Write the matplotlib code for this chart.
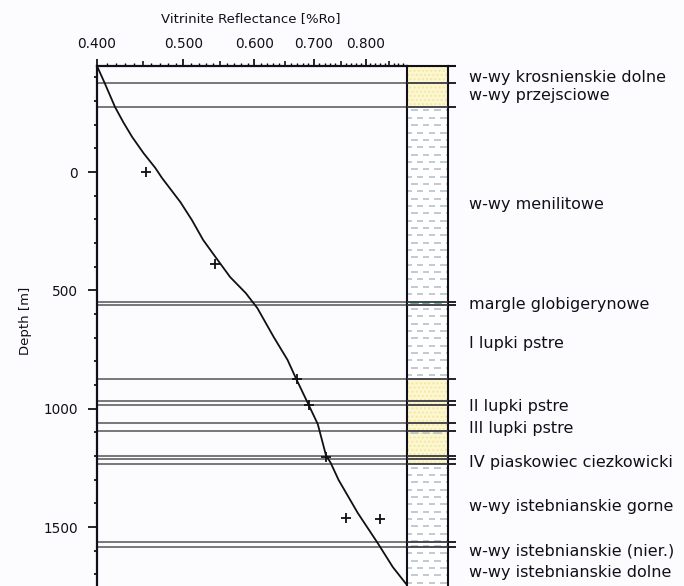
import numpy as np
import matplotlib
matplotlib.use('Agg')
import matplotlib.pyplot as plt
from matplotlib.ticker import FixedLocator, FixedFormatter, NullFormatter

plt.rcParams['font.family'] = ['DejaVu Sans']

# ---- data ----
curve_ro = [0.400, 0.408, 0.419, 0.428, 0.438, 0.451, 0.465, 0.473, 0.496, 0.511,
            0.526, 0.543, 0.564, 0.587, 0.605, 0.631, 0.654, 0.668, 0.689, 0.707,
            0.722, 0.731, 0.746, 0.784, 0.825, 0.858, 0.890]
curve_depth = [-448, -376, -275, -211, -148, -80, -17, 25, 127, 203,
               287, 359, 444, 511, 575, 697, 794, 870, 976, 1065,
               1196, 1229, 1301, 1441, 1567, 1669, 1745]

sample_ro = [0.454, 0.543, 0.670, 0.691, 0.722, 0.760, 0.830]
sample_depth = [0, 389, 876, 984, 1204, 1463, 1467]

boundaries = [-375, -276, 548, 562, 875, 967, 984, 1062, 1093, 1199, 1212, 1233, 1564, 1583]

layer_tops = [-448, -375, -276, 548, 562, 875, 967, 984, 1062, 1093, 1199, 1233, 1564]
layer_bases = [-375, -276, 548, 562, 875, 967, 984, 1062, 1093, 1199, 1233, 1564, 1749]
layer_lith = ['sand', 'sand', 'shale', 'marl', 'shale', 'sand', 'sand', 'sand',
              'sandshale', 'sand', 'sand', 'shale', 'shale']

formation_names = ['w-wy krosnienskie dolne', 'w-wy przejsciowe', 'w-wy menilitowe',
                   'margle globigerynowe', 'I lupki pstre', 'II lupki pstre',
                   'III lupki pstre', 'IV piaskowiec ciezkowicki',
                   'w-wy istebnianskie gorne', 'w-wy istebnianskie (nier.)',
                   'w-wy istebnianskie dolne']
label_depths = [-399, -323, 139, 560, 725, 989, 1085, 1229, 1412, 1602, 1692]

x_major = [0.4, 0.5, 0.6, 0.7, 0.8]
x_major_labels = ['0.400', '0.500', '0.600', '0.700', '0.800']
x_mid = [0.45, 0.55, 0.65, 0.75, 0.85]
y_major = [0, 500, 1000, 1500]

XMIN, XMAX = 0.4, 0.89
YTOP, YBOT = -448, 1749

# ---- figure ----
W, H = 684, 586
fig = plt.figure(figsize=(W / 100, H / 100), dpi=100)
fig.patch.set_facecolor('#fcfcfe')

ax_l, ax_r, ax_t = 97, 407, 66
ax = fig.add_axes([ax_l / W, 0, (ax_r - ax_l) / W, (H - ax_t) / H])
ax.set_facecolor('#fcfcfe')
ax.set_xscale('log')
ax.set_xlim(XMIN, XMAX)
ax.set_ylim(YBOT, YTOP)

ax.xaxis.tick_top()
ax.xaxis.set_major_locator(FixedLocator(x_major))
ax.xaxis.set_major_formatter(FixedFormatter(x_major_labels))
minors = [round(v, 2) for v in np.arange(0.41, 0.885, 0.01)
          if all(abs(v - m) > 1e-6 for m in x_major + x_mid)]
ax.xaxis.set_minor_locator(FixedLocator(minors))
ax.xaxis.set_minor_formatter(NullFormatter())
ax.tick_params(axis='x', which='major', direction='out', length=5.0, width=1.2,
               pad=6, labelsize=9.8, top=True, bottom=False, labelcolor='#101018')
ax.tick_params(axis='x', which='minor', direction='out', length=2.2, width=1.0,
               top=True, bottom=False)
sec = ax.secondary_xaxis('top')
sec.xaxis.set_major_locator(FixedLocator(x_mid))
sec.xaxis.set_major_formatter(NullFormatter())
sec.xaxis.set_minor_locator(FixedLocator([]))
sec.tick_params(axis='x', which='major', direction='out', length=3.5, width=1.1)
sec.spines['top'].set_visible(False)

ax.yaxis.set_major_locator(FixedLocator(y_major))
ax.yaxis.set_minor_locator(FixedLocator([v for v in range(-400, 1750, 100) if v % 500 != 0]))
ax.tick_params(axis='y', which='major', direction='out', length=6.5, width=1.2,
               pad=7, labelsize=9.8, labelcolor='#101018')
ax.tick_params(axis='y', which='minor', direction='out', length=2.5, width=1.2)

for s in ['right', 'bottom']:
    ax.spines[s].set_visible(False)
for s in ['left', 'top']:
    ax.spines[s].set_linewidth(1.6)
    ax.spines[s].set_color('#101018')

ax.hlines(boundaries, XMIN, XMAX, color='#6e6e6e', lw=1.3, zorder=1)
ax.plot(curve_ro, curve_depth, color='#101010', lw=1.3, zorder=3)
ax.plot(sample_ro, sample_depth, linestyle='none', marker='+', ms=6.5, mew=1.3,
        color='#101010', zorder=4)

# ---- lithology strip ----
sx_r = 448
ax2 = fig.add_axes([ax_r / W, 0, (sx_r - ax_r) / W, (H - ax_t) / H], sharey=ax)
ax2.set_facecolor('white')
ax2.set_xlim(0, 1)
ax2.set_ylim(YBOT, YTOP)
ax2.set_xticks([])
ax2.tick_params(axis='y', which='both', left=False, labelleft=False)
for s in ['left', 'right', 'top']:
    ax2.spines[s].set_linewidth(1.5)
    ax2.spines[s].set_color('#101018')
ax2.spines['bottom'].set_visible(False)

row_step = 31.0
dash_len, dash_period = 6.5 / 41, 11.7 / 41


def dash_rows(top, base, color='#b0bcc4'):
    yy = np.arange(top + 16, base - 4, row_step)
    for i, yv in enumerate(yy):
        off = 4 / 41 if i % 2 == 0 else (4 + 5.8) / 41
        xs = np.arange(off - dash_period, 1.0, dash_period)
        for x0 in xs:
            a, b = max(x0, 0.03), min(x0 + dash_len, 0.97)
            if b > a:
                ax2.plot([a, b], [yv, yv], color=color, lw=1.1, solid_capstyle='butt', zorder=2)


for top, base, lith in zip(layer_tops, layer_bases, layer_lith):
    if lith.startswith('sand'):
        ax2.axhspan(base, top, facecolor='#fdf7cf', edgecolor='#f3e7a6', hatch='....',
                    lw=0, zorder=1)
        if lith == 'sandshale':
            for x0 in [0.1, 0.38, 0.66]:
                ax2.plot([x0, x0 + 0.16], [base + 8, base + 8], color='#b0bcc4', lw=1.1, zorder=2)
    elif lith == 'marl':
        for x0 in np.arange(0.1, 0.95, dash_period):
            ax2.plot([x0, min(x0 + dash_len, 0.97)], [top + 4, top + 4], color='#3a9a78',
                     lw=1.1, zorder=2)
    else:
        dash_rows(top, base)

ax2.hlines(boundaries, 0, 1.0, color='#3a3a44', lw=1.3, zorder=3)
ax2.hlines(boundaries, 1.0, 1.2, color='#101018', lw=1.3, zorder=3, clip_on=False)
ax2.hlines([YTOP], 1.0, 1.2, color='#101018', lw=1.5, zorder=3, clip_on=False)

for name, d in zip(formation_names, label_depths):
    ax2.text(1.5, d, name, ha='left', va='center', fontsize=11.5, color='#101018',
             clip_on=False)

fig.text(251 / W, 1 - 19 / H, 'Vitrinite Reflectance [%Ro]', ha='center', va='center',
         fontsize=9.5, color='#101018')
fig.text(25 / W, 1 - 321 / H, 'Depth [m]', ha='center', va='center', rotation=90,
         fontsize=9.5, color='#101018')

fig.savefig('out.png', dpi=100, facecolor=fig.get_facecolor())
